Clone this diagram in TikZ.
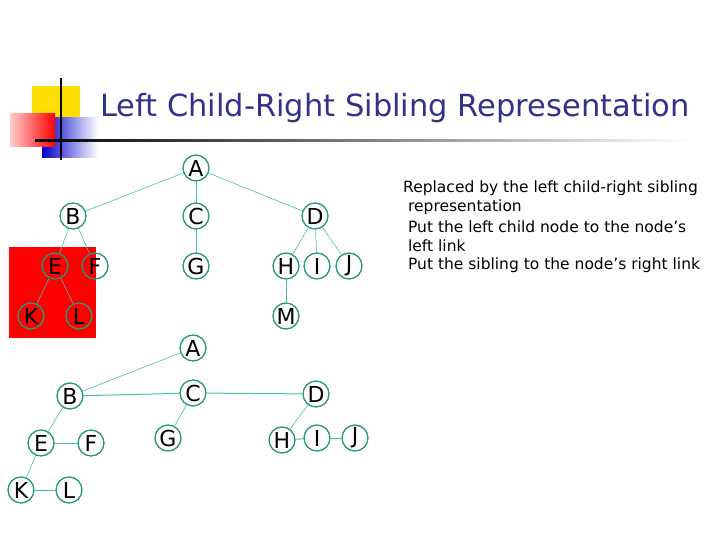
\documentclass[tikz,border=0pt]{standalone}
\usepackage{fontspec}
\setmainfont{DejaVu Sans}
\usetikzlibrary{positioning}
\definecolor{ringc}{RGB}{40,150,120}
\definecolor{edgec}{RGB}{70,190,170}
\definecolor{titlec}{RGB}{50,50,140}
\begin{document}
\begin{tikzpicture}[x=1pt,y=-1pt,
		tnode/.style={circle,draw=ringc,line width=1.3pt,minimum size=26pt,inner sep=0pt,font=\fontsize{22}{22}\selectfont},
		edge/.style={draw=edgec,line width=0.6pt},
		link/.style={draw=edgec,line width=1pt}
	]
	\useasboundingbox (0,0) rectangle (720,540);
	% logo
	\fill[yellow!80!orange] (32,86) rectangle (80,118);
	\shade[left color=blue!80!black,right color=white] (42,118) rectangle (98,158);
	\shade[left color=red!20,right color=red] (10,114) rectangle (55,147);
	\draw[line width=2pt] (61,78) -- (61,160);
	\shade[left color=black,right color=white] (35,140) rectangle (690,142);
	\node[font=\fontsize{30.5}{30.5}\selectfont,text=titlec,anchor=west,inner sep=0pt] (title) at (100,108) {Left Child-Right Sibling Representation};
	% general tree
	\fill[red] (9,247) rectangle (96,338);
	\node[tnode] (A) at (196,168) {A};
	\node[tnode] (B) at (73,216) {B};
	\node[tnode] (C) at (196,216) {C};
	\node[tnode] (D) at (315,216) {D};
	\node[tnode] (E) at (55,266) {E};
	\node[tnode] (F) at (95,266) {F};
	\node[tnode] (G) at (196,266) {G};
	\node[tnode] (H) at (286,266) {H};
	\node[tnode] (I) at (317,266) {I};
	\node[tnode] (J) at (349,266) {J};
	\node[tnode] (K) at (31,316) {K};
	\node[tnode] (L) at (79,316) {L};
	\node[tnode] (M) at (286,316) {M};
	\foreach \p/\c in {A/B,A/C,A/D,B/E,B/F,C/G,D/H,D/I,D/J,E/K,E/L,H/M}
		\path[edge] (\p) -- (\c);
	% left child-right sibling tree
	\node[tnode] (A2) at (193,348) {A};
	\node[tnode] (B2) at (70,396) {B};
	\node[tnode] (C2) at (193,393) {C};
	\node[tnode] (D2) at (316,394) {D};
	\node[tnode] (E2) at (41,443) {E};
	\node[tnode] (F2) at (91,443) {F};
	\node[tnode] (G2) at (168,438) {G};
	\node[tnode] (H2) at (282,440) {H};
	\node[tnode] (I2) at (317,438) {I};
	\node[tnode] (J2) at (355,438) {J};
	\node[tnode] (K2) at (21,490) {K};
	\node[tnode] (L2) at (69,490) {L};
	\foreach \p/\c in {A2/B2,B2/E2,C2/G2,D2/H2,E2/K2}
		\path[edge] (\p) -- (\c);
	\foreach \p/\c in {B2/C2,C2/D2,E2/F2,H2/I2,I2/J2,K2/L2}
		\path[link] (\p) -- (\c);
	% notes
	\node[anchor=north west,align=left,inner sep=0pt,font=\fontsize{15.5}{18.5}\selectfont] (notes) at (403,181)
		{Replaced by the left child-right sibling\\
		\ representation\\[3pt]
		\ Put the left child node to the node's\\
		\ left link\\
		\ Put the sibling to the node's right link};
\end{tikzpicture}
\end{document}
